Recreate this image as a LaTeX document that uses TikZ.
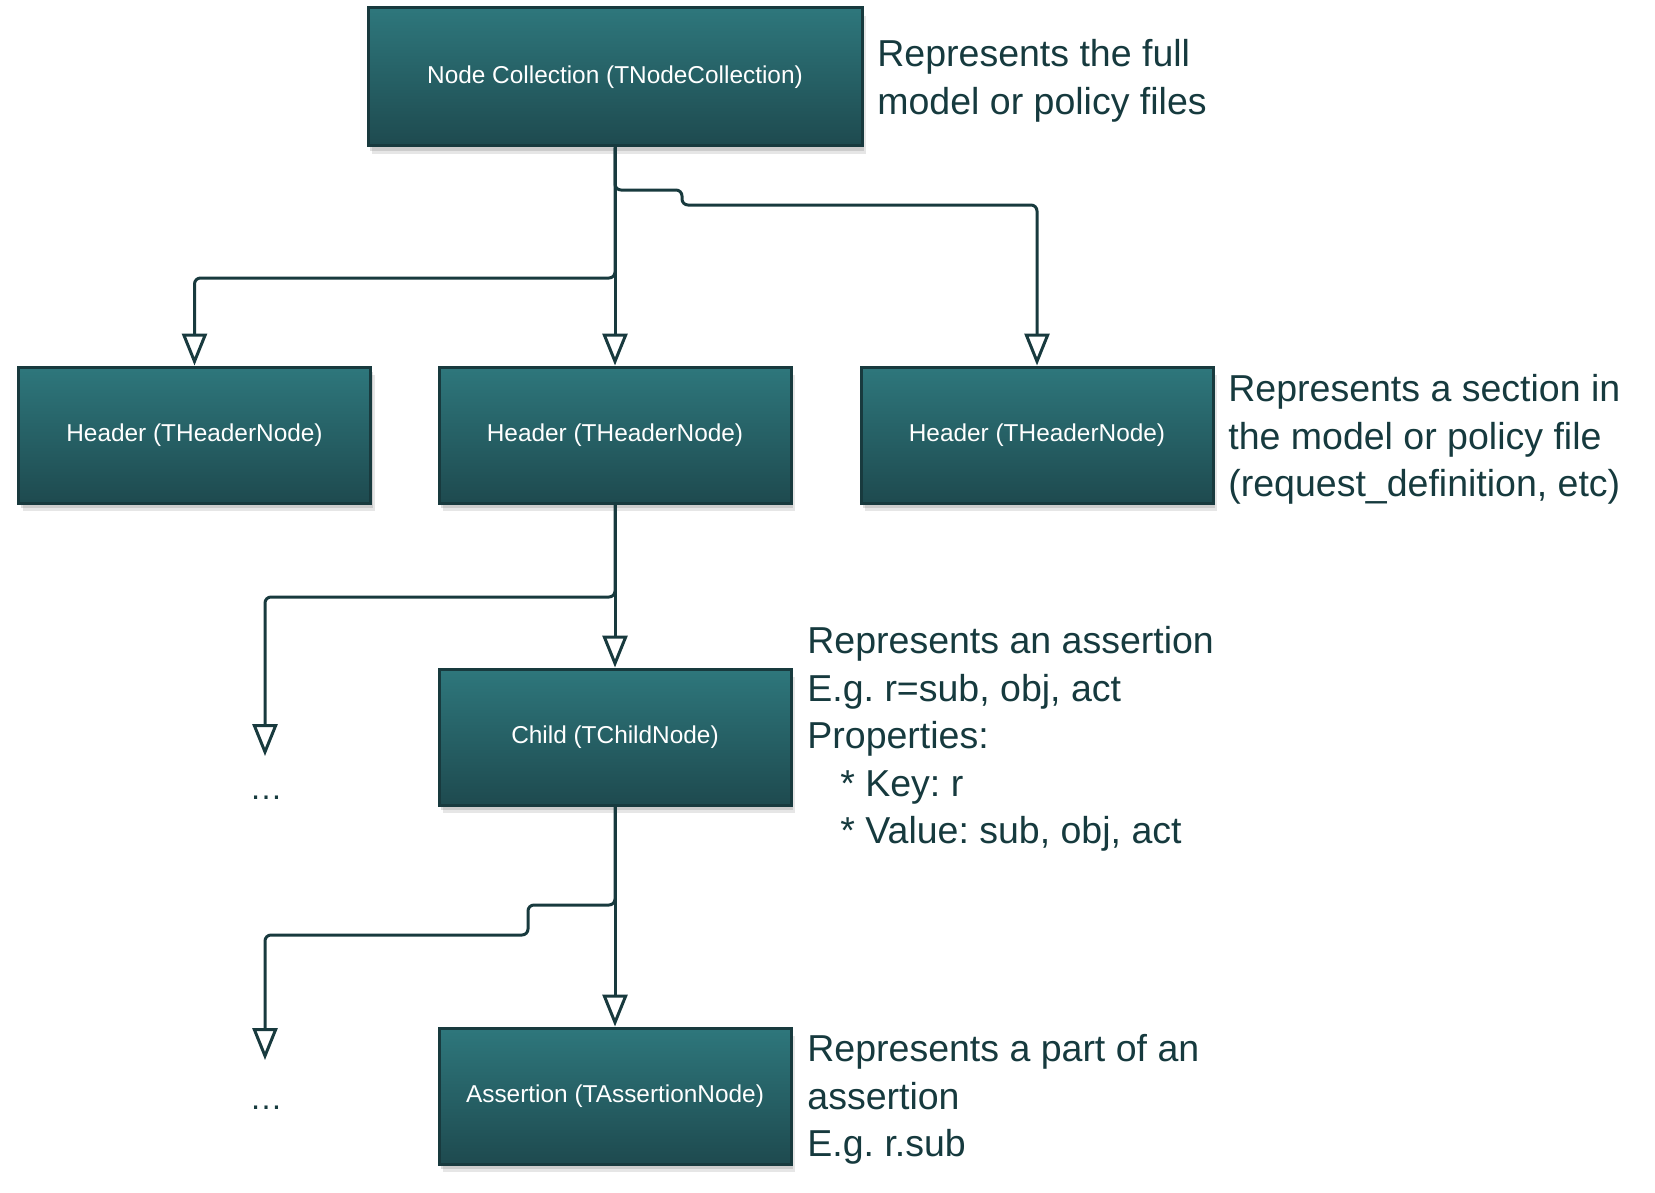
\documentclass[tikz,border=0pt]{standalone}
\usepackage{fontspec}
\setmainfont{Liberation Sans}
\usetikzlibrary{arrows.meta,shadows}

\definecolor{boxtop}{RGB}{46,119,124}
\definecolor{boxbot}{RGB}{30,74,79}
\definecolor{boxline}{RGB}{24,58,62}
\definecolor{inkcol}{RGB}{22,58,62}

\frenchspacing
\begin{document}
\begin{tikzpicture}[x=0.5pt, y=-0.5pt,
  box/.style={draw=boxline, line width=1.5pt, top color=boxtop, bottom color=boxbot,
    text=white, font=\fontsize{12.2}{14}\selectfont, inner sep=0pt,
    minimum width=176pt, minimum height=68pt,
    drop shadow={shadow xshift=2pt, shadow yshift=-4pt, opacity=0.2},
    drop shadow={shadow xshift=1pt, shadow yshift=-2.5pt, opacity=0.25}},
  note/.style={anchor=north west, align=left, inner sep=0pt, text=inkcol,
    font=\fontsize{18.75}{23.75}\selectfont},
  more/.style={text=inkcol, font=\fontsize{16.5}{18}\selectfont},
  link/.style={draw=boxline, line width=1.5pt, rounded corners=3pt,
    -{Triangle[open, length=16pt, width=12.5pt]}}]
  % picture size in pixels of the original (1px = 0.5pt, y downwards)
  \useasboundingbox (0,0) rectangle (1655,1193);

  % boxes
  \node[box, minimum width=247pt, minimum height=69pt] (coll) at (615,77) {Node Collection (TNodeCollection)};
  \node[box] (hdrA) at (194.5,435) {Header (THeaderNode)};
  \node[box] (hdrB) at (615,435) {Header (THeaderNode)};
  \node[box] (hdrC) at (1037,435) {Header (THeaderNode)};
  \node[box] (child) at (615,737) {Child (TChildNode)};
  \node[box] (asrt) at (615,1096) {Assertion (TAssertionNode)};

  % the elided siblings
  \node[more] (moreA) at (266,798) {\ldots};
  \node[more] (moreB) at (266,1108) {\ldots};
  \coordinate (tipA) at (265,756);
  \coordinate (tipB) at (265,1060);

  % connectors
  \draw[link] (coll.south) -- (coll.south |- 0,278) -| (hdrA.north);
  \draw[link] (coll.south) -- (hdrB.north);
  \draw[link] (coll.south) -- (coll.south |- 0,190) -- (682,190) -- (682,205) -| (hdrC.north);
  \draw[link] (hdrB.south) -- (child.north);
  \draw[link] (hdrB.south) -- (hdrB.south |- 0,597) -| (tipA);
  \draw[link] (child.south) -- (asrt.north);
  \draw[link] (child.south) -- (child.south |- 0,905) -- (528,905) -- (528,935) -| (tipB);

  % notes
  \node[note] (noteColl) at (877,39) {Represents the full\\model or policy files};
  \node[note] (noteHdr) at (1228,374) {Represents a section in\\the model or policy file\\(request\_definition, etc)};
  \node[note] (noteChild) at (807,626) {Represents an assertion\\E.g. r=sub, obj, act\\Properties:\\
    \hspace*{16.5pt}* Key: r\\\hspace*{16.5pt}* Value: sub, obj, act};
  \node[note] (noteAsrt) at (807,1034) {Represents a part of an\\assertion\\E.g. r.sub};
\end{tikzpicture}
\end{document}
